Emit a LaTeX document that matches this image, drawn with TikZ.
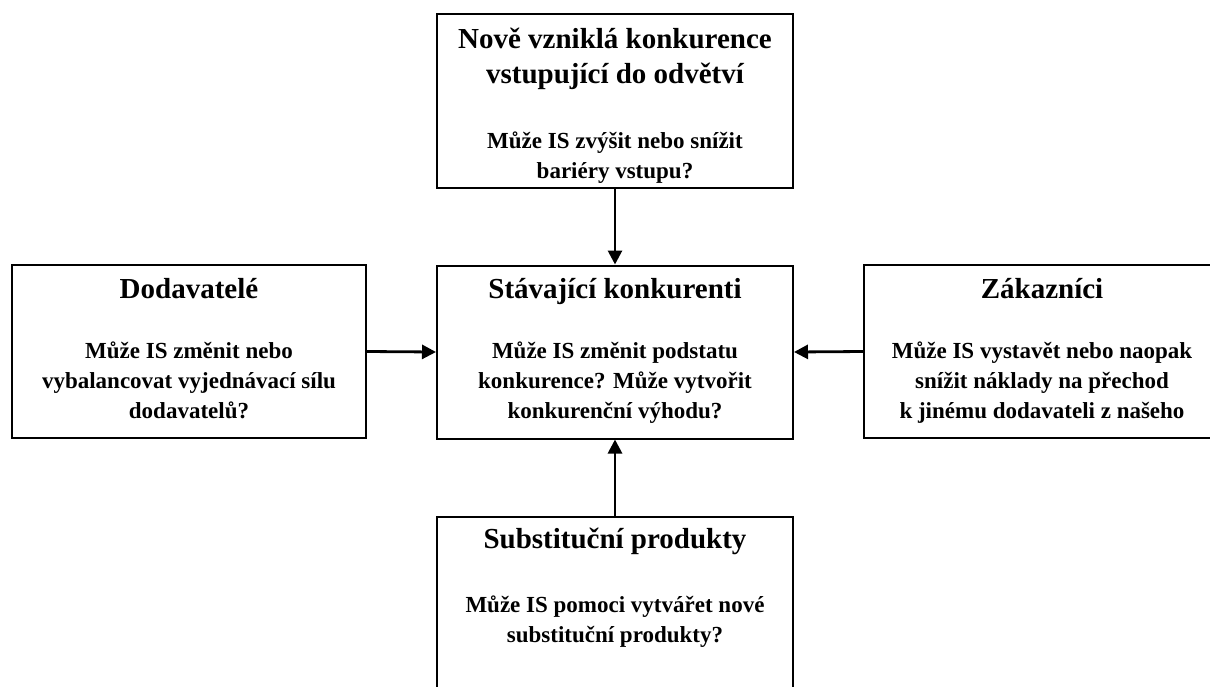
\documentclass[tikz,border=0pt]{standalone}
\usepackage{fontspec}
\setmainfont{Liberation Serif}
\usetikzlibrary{arrows.meta}

% Porter's five forces with the questions an information system raises
\tikzset{
  force/.style={draw, line width=2pt, minimum width=356pt, minimum height=173pt, inner sep=0pt},
  ttl/.style={anchor=base, inner sep=0pt, font=\bfseries\fontsize{29}{35}\selectfont},
  bdy/.style={anchor=base, inner sep=0pt, font=\bfseries\fontsize{23}{30}\selectfont},
  link/.style={line width=2.8pt, -{Triangle[length=14pt,width=14pt]}}
}
\newcommand\stacklines[1]{\begin{tabular}[t]{@{}c@{}}#1\end{tabular}}

\begin{document}
\begin{tikzpicture}[x=1pt,y=-1pt]
\useasboundingbox (0,0) rectangle (1210,686);
\clip (0,0) rectangle (1210,686);

% boxes
\node[force, minimum height=174pt] (entrants) at (615,101) {};
\node[force] (rivals)    at (615,352) {};
\node[force, minimum width=354pt] (suppliers) at (189,351.5) {};
\node[force] (buyers)    at (1042,351.5) {};
\node[force] (substitutes) at (615,603.5) {};

% texts
\node[ttl] (entrantsT) at (615,48) {\stacklines{Nově vzniklá konkurence\\vstupující do odvětví}};
\node[bdy] (entrantsB) at (615,148) {\stacklines{Může IS zvýšit nebo snížit\\bariéry vstupu?}};

\node[ttl] (rivalsT) at (615,298) {\stacklines{Stávající konkurenti}};
\node[bdy] (rivalsB) at (615,358) {\stacklines{Může IS změnit podstatu\\konkurence? Může vytvořit\\konkurenční výhodu?}};

\node[ttl] (suppliersT) at (189,298) {\stacklines{Dodavatelé}};
\node[bdy] (suppliersB) at (189,358) {\stacklines{Může IS změnit nebo\\vybalancovat vyjednávací sílu\\dodavatelů?}};

\node[ttl] (buyersT) at (1042,298) {\stacklines{Zákazníci}};
\node[bdy] (buyersB) at (1042,358) {\stacklines{Může IS vystavět nebo naopak\\snížit náklady na přechod\\k jinému dodavateli z našeho}};

\node[ttl] (substitutesT) at (615,548) {\stacklines{Substituční produkty}};
\node[bdy] (substitutesB) at (615,612) {\stacklines{Může IS pomoci vytvářet nové\\substituční produkty?}};

% connectors
\draw[link] (entrants.south) -- (rivals.north);
\draw[link] (suppliers.east) -- (rivals.west);
\draw[link] (buyers.west) -- (rivals.east);
\draw[link] (substitutes.north) -- (rivals.south);
\end{tikzpicture}
\end{document}
